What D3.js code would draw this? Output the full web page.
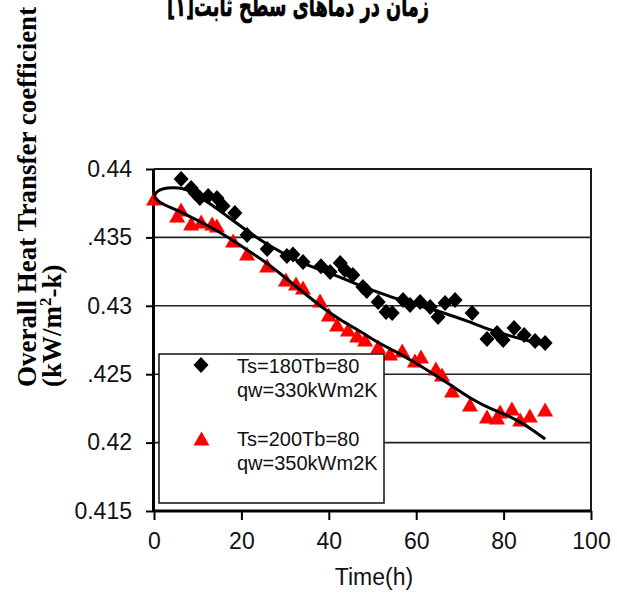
<!DOCTYPE html>
<html>
<head>
<meta charset="utf-8">
<script src="https://cdn.jsdelivr.net/npm/d3@7"></script>
<style>
  html, body { margin: 0; padding: 0; background: #fff; }
  svg { display: block; }
</style>
</head>
<body>
<svg id="chart" width="617" height="594"></svg>
<script>
// Axis ticks
const xTicks = [0, 20, 40, 60, 80, 100];
const yTicks = [0.415, 0.42, 0.425, 0.43, 0.435, 0.44];
const yTickLabels = ["0.415", "0.42", ".425", "0.43", ".435", "0.44"];

// Ts=180, Tb=80, qw=330 : measured points
const hours180 = [6.2, 8.5, 9.4, 10.5, 12.4, 14.4, 15.8, 18.5, 21.3, 25.9, 30.4, 31.8, 34.1, 38.2, 40.3,
  42.6, 43.7, 45.5, 47.8, 48.7, 51.3, 53.1, 54.5, 57.0, 58.6, 60.9, 63.2, 65.0, 66.6, 68.9, 72.8,
  76.2, 78.5, 79.9, 82.4, 84.7, 87.2, 89.5];
const htc180 = [0.43927, 0.43861, 0.43825, 0.43788, 0.43803, 0.43788, 0.43730, 0.43678, 0.43518, 0.43415,
  0.43364, 0.43375, 0.43320, 0.43290, 0.43247, 0.43313, 0.43262, 0.43225, 0.43137, 0.43108, 0.43028,
  0.42955, 0.42947, 0.43042, 0.43006, 0.43028, 0.42991, 0.42918, 0.43020, 0.43042, 0.42947, 0.42757,
  0.42801, 0.42750, 0.42838, 0.42787, 0.42743, 0.42728];

// Ts=200, Tb=80, qw=350 : measured points
const hours200 = [0, 5.3, 6.2, 8.5, 10.8, 13.3, 14.4, 18.1, 21.3, 25.9, 30.2, 32.5, 34.1, 38.0, 40.0,
  41.9, 44.4, 46.5, 48.3, 51.3, 54.0, 56.8, 59.7, 61.1, 64.5, 65.9, 68.2, 72.3, 76.2, 78.5, 79.2,
  81.9, 83.8, 86.0, 89.5];
const htc200 = [0.43780, 0.43656, 0.43700, 0.43598, 0.43613, 0.43598, 0.43583, 0.43474, 0.43379, 0.43291,
  0.43189, 0.43159, 0.43130, 0.43035, 0.42933, 0.42860, 0.42823, 0.42779, 0.42750, 0.42699, 0.42648,
  0.42670, 0.42596, 0.42626, 0.42538, 0.42494, 0.42377, 0.42275, 0.42188, 0.42180, 0.42224, 0.42246,
  0.42165, 0.42194, 0.42238];

// Trend curves
const trendHours180 = [0, 0.7, 2.1, 4.1, 6.4, 8.2, 10.5, 13.3, 16.7, 20.4, 24.3, 28.2, 32.3, 36.8, 42.6,
  47.1, 51.7, 56.3, 60.9, 67.1, 72.3, 76.9, 81.5, 86.0, 89.9];
const trendHtc180 = [0.43803, 0.43839, 0.43857, 0.43865, 0.43861, 0.43839, 0.43795, 0.43737, 0.43656,
  0.43569, 0.43481, 0.43408, 0.43335, 0.43276, 0.43211, 0.43145, 0.43094, 0.43042, 0.42999, 0.42940,
  0.42882, 0.42823, 0.42779, 0.42743, 0.42706];
const trendHours200 = [0, 1.4, 4.4, 8.2, 12.1, 16.7, 21.3, 25.9, 30.4, 34.1, 38.0, 42.6, 47.1, 51.7,
  54.7, 59.3, 63.8, 68.4, 73.0, 77.6, 80.8, 83.8, 86.7, 89.5];
const trendHtc200 = [0.43795, 0.43751, 0.43711, 0.43653, 0.43591, 0.43507, 0.43408, 0.43313, 0.43196,
  0.43101, 0.42999, 0.42896, 0.42816, 0.42721, 0.42677, 0.42593, 0.42505, 0.42410, 0.42311, 0.42238,
  0.42202, 0.42151, 0.42092, 0.42026];

const legendLines180 = ["Ts=180Tb=80", "qw=330kWm2K"];
const legendLines200 = ["Ts=200Tb=80", "qw=350kWm2K"];

const svg = d3.select("#chart");
const plot = { left: 154, right: 591, top: 169, bottom: 511 };

const x = d3.scaleLinear().domain([0, 100]).range([plot.left, plot.right]);
const y = d3.scaleLinear().domain([0.415, 0.44]).range([plot.bottom, plot.top]);

// Caption (Persian)
svg.append("text")
  .attr("x", 298).attr("y", 16)
  .attr("text-anchor", "middle")
  .attr("direction", "rtl")
  .attr("textLength", 262)
  .attr("lengthAdjust", "spacingAndGlyphs")
  .attr("stroke", "#000").attr("stroke-width", 0.7)
  .style("font-family", "'DejaVu Sans', sans-serif")
  .style("font-weight", "bold")
  .style("font-size", "29px")
  .text("زمان در دماهای سطح ثابت[۱]");

// Horizontal gridlines
svg.append("g")
  .selectAll("line")
  .data(yTicks.filter(v => v > 0.415 && v < 0.44))
  .join("line")
  .attr("x1", plot.left).attr("x2", plot.right)
  .attr("y1", d => y(d)).attr("y2", d => y(d))
  .attr("stroke", "#222").attr("stroke-width", 1.6);

// Frame top and right
svg.append("path")
  .attr("d", `M${plot.left},${plot.top}H${plot.right}V${plot.bottom}`)
  .attr("fill", "none").attr("stroke", "#1a1a1a").attr("stroke-width", 2);

// Axes
const fontTick = "'Liberation Sans', Arial, sans-serif";
const yAxis = svg.append("g")
  .attr("transform", `translate(${plot.left},0)`)
  .call(d3.axisLeft(y).tickValues(yTicks).tickSize(8).tickPadding(14)
    .tickFormat((d, i) => yTickLabels[i]));
const xAxis = svg.append("g")
  .attr("transform", `translate(0,${plot.bottom})`)
  .call(d3.axisBottom(x).tickValues(xTicks).tickSize(9).tickPadding(13)
    .tickFormat(d3.format("d")));

[yAxis, xAxis].forEach(g => {
  g.select(".domain").attr("stroke", "#000").attr("stroke-width", 3);
  g.selectAll(".tick line").attr("stroke", "#000").attr("stroke-width", 2);
  g.selectAll(".tick text")
    .attr("fill", "#111")
    .style("font-family", fontTick)
    .style("font-size", "23px");
});
yAxis.select(".domain").attr("d", `M-0.5,${plot.top}V${plot.bottom}`);
xAxis.select(".domain").attr("d", `M${plot.left},0H${plot.right}`);

// X axis title
svg.append("text")
  .attr("x", 374).attr("y", 585)
  .attr("text-anchor", "middle")
  .attr("fill", "#111")
  .style("font-family", fontTick)
  .style("font-size", "23px")
  .text("Time(h)");

// Y axis title (two lines, rotated)
const yTitle = svg.append("text")
  .attr("transform", "translate(0,387) rotate(-90)")
  .attr("text-anchor", "start")
  .style("font-family", "'Liberation Serif', 'Times New Roman', serif")
  .style("font-weight", "bold")
  .style("font-size", "27px");
yTitle.append("tspan").attr("x", 0).attr("y", 36)
  .text("Overall Heat Transfer coefficient");
const l2 = yTitle.append("tspan").attr("x", 0).attr("y", 61);
l2.append("tspan").text("(kW/m");
l2.append("tspan").attr("dy", -10).style("font-size", "17px").text("2");
l2.append("tspan").attr("dy", 10).text("-k)");

// Marker shapes
const diamond = (cx, cy) => `M${cx},${cy - 8}L${cx + 7.5},${cy}L${cx},${cy + 8}L${cx - 7.5},${cy}Z`;
const triangle = (cx, cy) => `M${cx},${cy - 7.5}L${cx + 8},${cy + 6.5}L${cx - 8},${cy + 6.5}Z`;

const pts180 = hours180.map((h, i) => [h, htc180[i]]);
const pts200 = hours200.map((h, i) => [h, htc200[i]]);

svg.append("g").selectAll("path")
  .data(pts200).join("path")
  .attr("d", d => triangle(x(d[0]), y(d[1])))
  .attr("fill", "#ff0000");

svg.append("g").selectAll("path")
  .data(pts180).join("path")
  .attr("d", d => diamond(x(d[0]), y(d[1])))
  .attr("fill", "#000");

// Trend curves
const line = d3.line().x(d => x(d[0])).y(d => y(d[1])).curve(d3.curveBasis);
svg.append("path")
  .datum(trendHours180.map((h, i) => [h, trendHtc180[i]]))
  .attr("d", line).attr("fill", "none").attr("stroke", "#000").attr("stroke-width", 3);
svg.append("path")
  .datum(trendHours200.map((h, i) => [h, trendHtc200[i]]))
  .attr("d", line).attr("fill", "none").attr("stroke", "#000").attr("stroke-width", 3);

// Legend
const legend = svg.append("g");
legend.append("rect")
  .attr("x", 159).attr("y", 354).attr("width", 225).attr("height", 149)
  .attr("fill", "#fff").attr("stroke", "#111").attr("stroke-width", 1.5);
legend.append("path").attr("d", diamond(201, 365)).attr("fill", "#000");
legend.append("path").attr("d", triangle(201.5, 439)).attr("fill", "#ff0000");
const legendText = (lines, y0) => {
  lines.forEach((t, i) => {
    legend.append("text")
      .attr("x", 237).attr("y", y0 + i * 24)
      .attr("fill", "#111")
      .style("font-family", fontTick)
      .style("font-size", "20px")
      .text(t);
  });
};
legendText(legendLines180, 373);
legendText(legendLines200, 446);
</script>
</body>
</html>
